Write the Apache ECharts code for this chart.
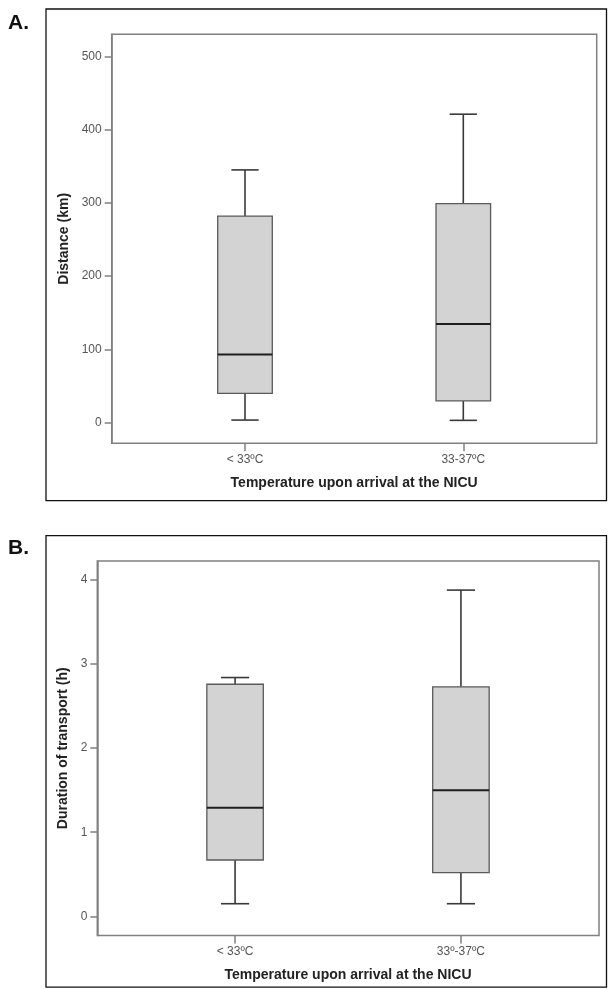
<!DOCTYPE html>
<html>
<head>
<meta charset="utf-8">
<script src="https://cdn.jsdelivr.net/npm/echarts@6/dist/echarts.min.js"></script>
<style>
html,body{margin:0;padding:0;background:#fff;}
#chart{width:608px;height:989px;}
</style>
</head>
<body>
<div id="chart"></div>
<script>
// ---- Data ----
const categoriesA = ['< 33ºC', '33-37ºC'];
const categoriesB = ['< 33ºC', '33º-37ºC'];
// Panel A: Distance (km)  [min, Q1, median, Q3, max]
const distanceMin    = [3.7, 3.3];
const distanceQ1     = [40, 30];
const distanceMedian = [93, 134.6];
const distanceQ3     = [282, 299];
const distanceMax    = [345, 421];
// Panel B: Duration of transport (h)
const durationMin    = [0.15, 0.15];
const durationQ1     = [0.67, 0.52];
const durationMedian = [1.29, 1.50];
const durationQ3     = [2.76, 2.73];
const durationMax    = [2.84, 3.88];
// Tick labels
const ticksA = [0, 100, 200, 300, 400, 500];
const ticksB = [0, 1, 2, 3, 4];

function rows(mins, q1s, meds, q3s, maxs) {
  return mins.map((m, i) => [i, m, q1s[i], meds[i], q3s[i], maxs[i]]);
}

function renderBox(params, api) {
  const x = api.value(0);
  const band = api.size([1, 0])[0];
  const boxW = band * 0.25, capW = band * 0.125;
  const pMin = api.coord([x, api.value(1)]);
  const pQ1 = api.coord([x, api.value(2)]);
  const pMed = api.coord([x, api.value(3)]);
  const pQ3 = api.coord([x, api.value(4)]);
  const pMax = api.coord([x, api.value(5)]);
  const cx = pMin[0];
  const wStyle = {stroke: '#3a3a3a', lineWidth: 1.6};
  return {
    type: 'group',
    children: [
      {type: 'line', shape: {x1: cx, y1: pMax[1], x2: cx, y2: pQ3[1]}, style: wStyle},
      {type: 'line', shape: {x1: cx, y1: pQ1[1], x2: cx, y2: pMin[1]}, style: wStyle},
      {type: 'line', shape: {x1: cx - capW / 2, y1: pMax[1], x2: cx + capW / 2, y2: pMax[1]}, style: wStyle},
      {type: 'line', shape: {x1: cx - capW / 2, y1: pMin[1], x2: cx + capW / 2, y2: pMin[1]}, style: wStyle},
      {type: 'rect', shape: {x: cx - boxW / 2, y: pQ3[1], width: boxW, height: pQ1[1] - pQ3[1]},
       style: {fill: '#d3d3d3', stroke: '#5a5a5a', lineWidth: 1.3}},
      {type: 'line', shape: {x1: cx - boxW / 2, y1: pMed[1], x2: cx + boxW / 2, y2: pMed[1]},
       style: {stroke: '#1e1e1e', lineWidth: 2}}
    ]
  };
}

const frameColor = '#808080';
const tickLabelStyle = {fontFamily: 'Liberation Sans', fontSize: 12, color: '#555'};
const nameStyle = {fontFamily: 'Liberation Sans', fontSize: 14, fontWeight: 'bold', color: '#222'};

function catAxis(grid, cats) {
  return {
    type: 'category', gridIndex: grid, data: cats, position: 'bottom',
    axisLine: {show: false, onZero: false},
    axisTick: {show: true, alignWithLabel: true, length: 8, lineStyle: {color: frameColor, width: 1.5}},
    axisLabel: Object.assign({margin: 10}, tickLabelStyle),
    name: 'Temperature upon arrival at the NICU',
    nameLocation: 'middle', nameGap: 33, nameTextStyle: nameStyle
  };
}
function hiddenY(grid, min, max) {
  return {type: 'value', gridIndex: grid, min: min, max: max, show: false, splitLine: {show: false}};
}
function visY(grid, min, max, ticks, name, gap) {
  return {
    type: 'value', gridIndex: grid, min: min, max: max,
    splitLine: {show: false},
    axisLine: {show: true, onZero: false, lineStyle: {color: frameColor, width: 1.5}},
    axisTick: {show: true, length: 7, customValues: ticks, lineStyle: {color: frameColor, width: 1.5}},
    axisLabel: Object.assign({margin: 10, customValues: ticks}, tickLabelStyle),
    name: name, nameLocation: 'middle', nameGap: gap, nameTextStyle: nameStyle
  };
}

const chart = echarts.init(document.getElementById('chart'), null, {renderer: 'canvas'});
chart.setOption({
  animation: false,
  backgroundColor: '#fff',
  grid: [
    {left: 135.85, top: 34.3, width: 436.6, height: 409, show: false},
    {left: 111.7, top: 34.3, width: 485, height: 409, show: true, borderColor: frameColor, borderWidth: 1.5, backgroundColor: 'transparent'},
    {left: 122.15, top: 561, width: 451.7, height: 374.5, show: false},
    {left: 97.3, top: 561, width: 501.7, height: 374.5, show: true, borderColor: frameColor, borderWidth: 1.5, backgroundColor: 'transparent'}
  ],
  xAxis: [
    catAxis(0, categoriesA),
    {type: 'value', gridIndex: 1, show: false, splitLine: {show: false}},
    catAxis(2, categoriesB),
    {type: 'value', gridIndex: 3, show: false, splitLine: {show: false}}
  ],
  yAxis: [
    hiddenY(0, -28, 530),
    visY(1, -28, 530, ticksA, 'Distance (km)', 36),
    hiddenY(2, -0.228, 4.226),
    visY(3, -0.228, 4.226, ticksB, 'Duration of transport (h)', 23)
  ],
  series: [
    {type: 'custom', xAxisIndex: 0, yAxisIndex: 0, renderItem: renderBox, clip: false,
     encode: {x: 0, y: [1, 2, 3, 4, 5]},
     data: rows(distanceMin, distanceQ1, distanceMedian, distanceQ3, distanceMax)},
    {type: 'custom', xAxisIndex: 2, yAxisIndex: 2, renderItem: renderBox, clip: false,
     encode: {x: 0, y: [1, 2, 3, 4, 5]},
     data: rows(durationMin, durationQ1, durationMedian, durationQ3, durationMax)}
  ],
  graphic: [
    {type: 'rect', shape: {x: 46, y: 9, width: 560.5, height: 491.7}, style: {fill: 'none', stroke: '#111', lineWidth: 1.3}, silent: true},
    {type: 'rect', shape: {x: 46, y: 535.7, width: 560.5, height: 451.5}, style: {fill: 'none', stroke: '#111', lineWidth: 1.3}, silent: true},
    {type: 'text', left: 8, top: 13, style: {text: 'A.', fontFamily: 'Liberation Sans', fontSize: 21, fontWeight: 'bold', fill: '#111'}},
    {type: 'text', left: 8, top: 538, style: {text: 'B.', fontFamily: 'Liberation Sans', fontSize: 21, fontWeight: 'bold', fill: '#111'}}
  ]
});
</script>
</body>
</html>
